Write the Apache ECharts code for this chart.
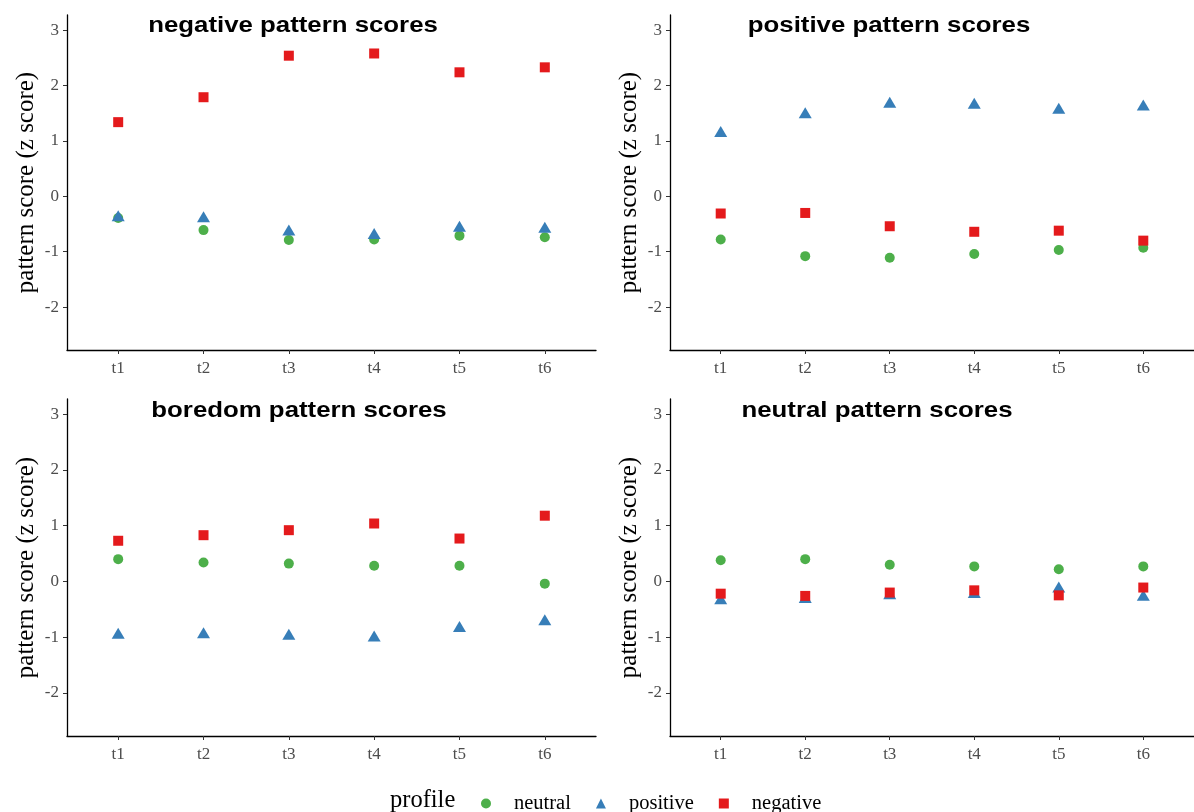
<!DOCTYPE html>
<html>
<head>
<meta charset="utf-8">
<script src="https://cdn.jsdelivr.net/npm/echarts@6/dist/echarts.min.js"></script>
<style>html,body{margin:0;padding:0;background:#fff}#c{width:1194px;height:812px}</style>
</head>
<body>
<div id="c"></div>
<script>
const times = ['t1', 't2', 't3', 't4', 't5', 't6'];
const yTicks = [-2, -1, 0, 1, 2, 3];
const profiles = ['neutral', 'positive', 'negative'];
const panelTitles = ['negative pattern scores', 'positive pattern scores', 'boredom pattern scores', 'neutral pattern scores'];

// negative pattern scores
const negPatNeutral  = [-0.39, -0.61, -0.79, -0.78, -0.71, -0.74];
const negPatPositive = [-0.35, -0.37, -0.61, -0.67, -0.54, -0.56];
const negPatNegative = [1.34, 1.79, 2.54, 2.58, 2.24, 2.33];
// positive pattern scores
const posPatNeutral  = [-0.78, -1.08, -1.11, -1.04, -0.97, -0.93];
const posPatPositive = [1.17, 1.51, 1.70, 1.68, 1.59, 1.65];
const posPatNegative = [-0.31, -0.30, -0.54, -0.64, -0.62, -0.80];
// boredom pattern scores
const borPatNeutral  = [0.40, 0.34, 0.32, 0.28, 0.28, -0.04];
const borPatPositive = [-0.93, -0.92, -0.95, -0.98, -0.81, -0.69];
const borPatNegative = [0.73, 0.83, 0.92, 1.04, 0.77, 1.18];
// neutral pattern scores
const neuPatNeutral  = [0.38, 0.40, 0.30, 0.27, 0.22, 0.27];
const neuPatPositive = [-0.31, -0.29, -0.22, -0.20, -0.10, -0.25];
const neuPatNegative = [-0.22, -0.26, -0.20, -0.16, -0.25, -0.11];

const panels = [
  [negPatNeutral, negPatPositive, negPatNegative],
  [posPatNeutral, posPatPositive, posPatNegative],
  [borPatNeutral, borPatPositive, borPatNegative],
  [neuPatNeutral, neuPatPositive, neuPatNegative]
];

const colors = { neutral: '#4DAF4A', positive: '#377EB8', negative: '#E41A1C' };
const symbols = { neutral: 'circle', positive: 'triangle', negative: 'rect' };
const sizes = { neutral: 10, positive: [13, 11], negative: 10 };

const grids = [
  { left: 67, top: 15, width: 529, height: 335 },
  { left: 670, top: 15, width: 527, height: 335 },
  { left: 67, top: 399, width: 529, height: 337 },
  { left: 670, top: 399, width: 527, height: 337 }
];
const titlePos = [[293, 26.4], [889, 26.4], [299, 411], [877, 411.4]];

const serif = 'Liberation Serif';
const xAxes = [], yAxes = [], series = [], graphics = [];
grids.forEach((g, i) => {
  xAxes.push({
    type: 'value', gridIndex: i, min: 0.4, max: 6.6,
    splitLine: { show: false },
    axisLine: { show: true, onZero: false, lineStyle: { color: '#000', width: 1.3 } },
    axisTick: { show: true, length: 4, customValues: [1, 2, 3, 4, 5, 6], lineStyle: { color: '#333' } },
    axisLabel: { customValues: [1, 2, 3, 4, 5, 6], margin: 10, color: '#4d4d4d', fontFamily: serif, fontSize: 17,
      formatter: v => times[Math.round(v) - 1] }
  });
  yAxes.push({
    type: 'value', gridIndex: i, min: -2.775, max: 3.275,
    splitLine: { show: false },
    name: 'pattern score (z score)', nameLocation: 'middle', nameGap: 28,
    nameTextStyle: { fontFamily: serif, fontSize: 25, color: '#000' },
    axisLine: { show: true, onZero: false, lineStyle: { color: '#000', width: 1.3 } },
    axisTick: { show: true, length: 4, customValues: yTicks, lineStyle: { color: '#333' } },
    axisLabel: { customValues: yTicks, margin: 8, color: '#4d4d4d', fontFamily: serif, fontSize: 17 }
  });
  profiles.forEach((p, k) => {
    series.push({
      type: 'scatter', name: p, xAxisIndex: i, yAxisIndex: i,
      symbol: symbols[p], symbolSize: sizes[p],
      itemStyle: { color: colors[p], opacity: 1 },
      data: panels[i][k].map((v, j) => [j + 1, v])
    });
  });
  graphics.push({
    type: 'text', x: titlePos[i][0], y: titlePos[i][1], scaleX: 1.2,
    style: { text: panelTitles[i], fontFamily: 'Liberation Sans', fontWeight: 'bold', fontSize: 21.5,
      fill: '#000', align: 'center', verticalAlign: 'middle' }
  });
});
graphics.push({
  type: 'text', x: 390, y: 801,
  style: { text: 'profile', fontFamily: serif, fontSize: 24.5, fill: '#000', align: 'left', verticalAlign: 'middle' }
});

const chart = echarts.init(document.getElementById('c'), null, { renderer: 'canvas' });
chart.setOption({
  animation: false,
  backgroundColor: '#fff',
  grid: grids,
  xAxis: xAxes,
  yAxis: yAxes,
  series: series,
  graphic: graphics,
  legend: {
    data: profiles.map(p => ({ name: p, icon: symbols[p] })),
    left: 476, top: 788, orient: 'horizontal',
    itemWidth: 10, itemHeight: 10, itemGap: 25,
    textStyle: { fontFamily: serif, fontSize: 20.5, color: '#000', padding: [0, 0, 0, 18] }
  }
});
</script>
</body>
</html>
